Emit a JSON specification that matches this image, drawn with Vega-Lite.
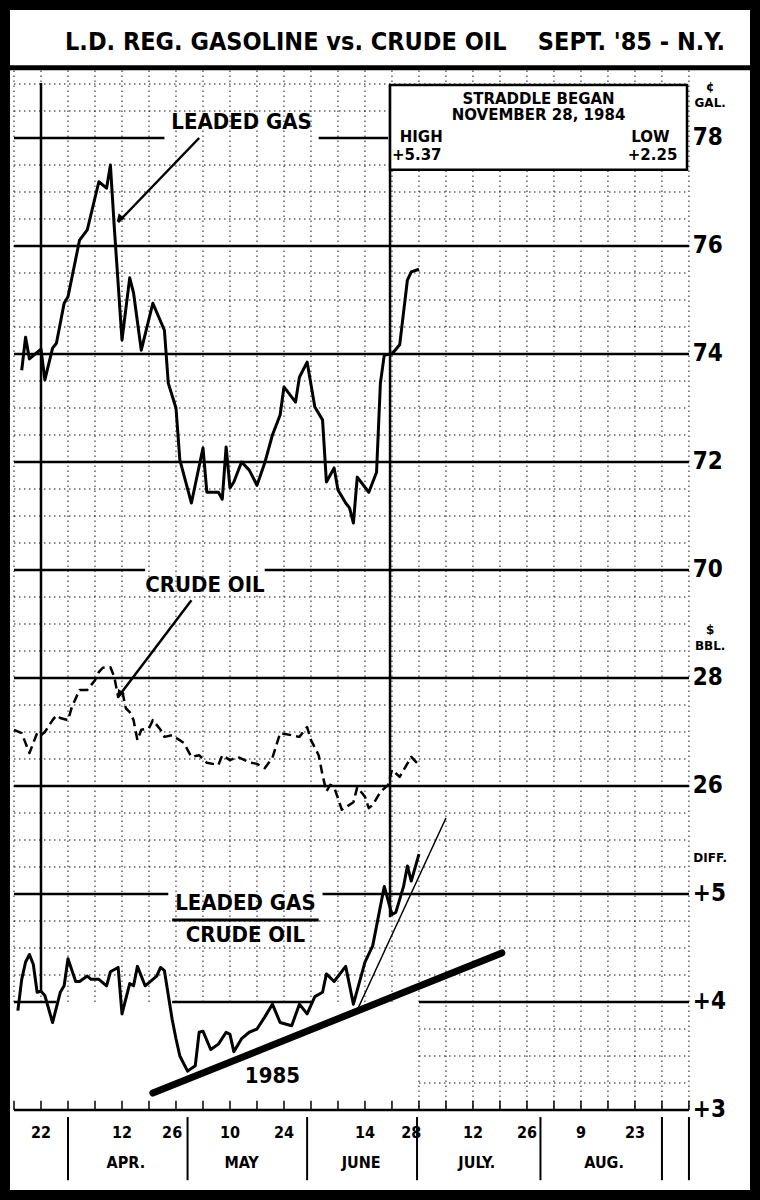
{
  "$schema": "https://vega.github.io/schema/vega-lite/v6.json",
  "width": 750,
  "height": 1190,
  "autosize": {"type": "none"},
  "padding": {"left": 5, "top": 5, "right": 5, "bottom": 5},
  "background": "white",
  "config": {"view": {"stroke": "#000", "strokeWidth": 10}},
  "title": {
    "text": "L.D. REG. GASOLINE vs. CRUDE OIL\u00a0\u00a0\u00a0\u00a0SEPT. '85 - N.Y.",
    "orient": "top", "anchor": "middle", "frame": "group", "offset": -70, "baseline": "alphabetic", "dx": 15,
    "font": "DejaVu Sans Condensed", "fontWeight": "bold", "fontSize": 25, "color": "#000"
  },
  "datasets": {
    "weeks": [
      {"d": "1985-03-15"}, {"d": "1985-03-22"}, {"d": "1985-03-29"}, {"d": "1985-04-05"}, {"d": "1985-04-12"},
      {"d": "1985-04-19"}, {"d": "1985-04-26"}, {"d": "1985-05-03"}, {"d": "1985-05-10"}, {"d": "1985-05-17"},
      {"d": "1985-05-24"}, {"d": "1985-05-31"}, {"d": "1985-06-07"}, {"d": "1985-06-14"}, {"d": "1985-06-21"},
      {"d": "1985-06-28"}, {"d": "1985-07-05"}, {"d": "1985-07-12"}, {"d": "1985-07-19"}, {"d": "1985-07-26"},
      {"d": "1985-08-02"}, {"d": "1985-08-09"}, {"d": "1985-08-16"}, {"d": "1985-08-23"}, {"d": "1985-08-30"},
      {"d": "1985-09-06"}
    ],
    "gas": [
      {"d": "1985-03-17", "v": 73.70}, {"d": "1985-03-18", "v": 74.31}, {"d": "1985-03-19", "v": 73.91},
      {"d": "1985-03-22", "v": 74.09}, {"d": "1985-03-23", "v": 73.52}, {"d": "1985-03-25", "v": 74.11},
      {"d": "1985-03-26", "v": 74.20}, {"d": "1985-03-28", "v": 74.94}, {"d": "1985-03-29", "v": 75.06},
      {"d": "1985-04-01", "v": 76.11}, {"d": "1985-04-03", "v": 76.30}, {"d": "1985-04-06", "v": 77.19},
      {"d": "1985-04-08", "v": 77.07}, {"d": "1985-04-09", "v": 77.50}, {"d": "1985-04-10", "v": 76.35},
      {"d": "1985-04-12", "v": 74.26}, {"d": "1985-04-14", "v": 75.41}, {"d": "1985-04-15", "v": 75.13},
      {"d": "1985-04-17", "v": 74.07}, {"d": "1985-04-20", "v": 74.94}, {"d": "1985-04-23", "v": 74.44},
      {"d": "1985-04-24", "v": 73.46}, {"d": "1985-04-26", "v": 73.00}, {"d": "1985-04-27", "v": 72.04},
      {"d": "1985-04-30", "v": 71.24}, {"d": "1985-05-03", "v": 72.26}, {"d": "1985-05-04", "v": 71.44},
      {"d": "1985-05-07", "v": 71.44}, {"d": "1985-05-08", "v": 71.31}, {"d": "1985-05-09", "v": 72.28},
      {"d": "1985-05-10", "v": 71.52}, {"d": "1985-05-11", "v": 71.63}, {"d": "1985-05-13", "v": 72.00},
      {"d": "1985-05-15", "v": 71.85}, {"d": "1985-05-17", "v": 71.57}, {"d": "1985-05-19", "v": 71.98},
      {"d": "1985-05-21", "v": 72.50}, {"d": "1985-05-23", "v": 72.87}, {"d": "1985-05-24", "v": 73.39},
      {"d": "1985-05-27", "v": 73.11}, {"d": "1985-05-28", "v": 73.57}, {"d": "1985-05-30", "v": 73.85},
      {"d": "1985-06-01", "v": 73.02}, {"d": "1985-06-03", "v": 72.78}, {"d": "1985-06-04", "v": 71.63},
      {"d": "1985-06-06", "v": 71.89}, {"d": "1985-06-07", "v": 71.48}, {"d": "1985-06-09", "v": 71.24},
      {"d": "1985-06-10", "v": 71.15}, {"d": "1985-06-11", "v": 70.87}, {"d": "1985-06-12", "v": 71.72},
      {"d": "1985-06-15", "v": 71.44}, {"d": "1985-06-17", "v": 71.81}, {"d": "1985-06-18", "v": 73.46},
      {"d": "1985-06-19", "v": 73.98}, {"d": "1985-06-21", "v": 74.00}, {"d": "1985-06-23", "v": 74.17},
      {"d": "1985-06-25", "v": 75.37}, {"d": "1985-06-26", "v": 75.52}, {"d": "1985-06-28", "v": 75.57}
    ],
    "crude": [
      {"d": "1985-03-15", "v": 27.04}, {"d": "1985-03-17", "v": 26.98}, {"d": "1985-03-19", "v": 26.61},
      {"d": "1985-03-21", "v": 26.98}, {"d": "1985-03-22", "v": 26.94}, {"d": "1985-03-23", "v": 27.00},
      {"d": "1985-03-25", "v": 27.22}, {"d": "1985-03-26", "v": 27.31}, {"d": "1985-03-27", "v": 27.26},
      {"d": "1985-03-29", "v": 27.22}, {"d": "1985-03-30", "v": 27.46}, {"d": "1985-04-01", "v": 27.78},
      {"d": "1985-04-03", "v": 27.78}, {"d": "1985-04-05", "v": 27.96}, {"d": "1985-04-06", "v": 28.11},
      {"d": "1985-04-07", "v": 28.19}, {"d": "1985-04-09", "v": 28.20}, {"d": "1985-04-10", "v": 28.02},
      {"d": "1985-04-11", "v": 27.65}, {"d": "1985-04-12", "v": 27.78}, {"d": "1985-04-13", "v": 27.44},
      {"d": "1985-04-14", "v": 27.37}, {"d": "1985-04-15", "v": 27.22}, {"d": "1985-04-16", "v": 26.85},
      {"d": "1985-04-17", "v": 27.04}, {"d": "1985-04-19", "v": 27.07}, {"d": "1985-04-20", "v": 27.22},
      {"d": "1985-04-22", "v": 27.04}, {"d": "1985-04-23", "v": 26.91}, {"d": "1985-04-25", "v": 26.94},
      {"d": "1985-04-28", "v": 26.80}, {"d": "1985-04-30", "v": 26.54}, {"d": "1985-05-02", "v": 26.57},
      {"d": "1985-05-04", "v": 26.43}, {"d": "1985-05-07", "v": 26.39}, {"d": "1985-05-08", "v": 26.57},
      {"d": "1985-05-10", "v": 26.48}, {"d": "1985-05-12", "v": 26.54}, {"d": "1985-05-15", "v": 26.44},
      {"d": "1985-05-17", "v": 26.41}, {"d": "1985-05-19", "v": 26.33}, {"d": "1985-05-21", "v": 26.52},
      {"d": "1985-05-23", "v": 26.98}, {"d": "1985-05-26", "v": 26.94}, {"d": "1985-05-28", "v": 26.91},
      {"d": "1985-05-30", "v": 27.09}, {"d": "1985-05-31", "v": 26.85}, {"d": "1985-06-02", "v": 26.57},
      {"d": "1985-06-03", "v": 26.20}, {"d": "1985-06-04", "v": 25.90}, {"d": "1985-06-05", "v": 26.02},
      {"d": "1985-06-06", "v": 25.98}, {"d": "1985-06-08", "v": 25.56}, {"d": "1985-06-11", "v": 25.70},
      {"d": "1985-06-12", "v": 25.98}, {"d": "1985-06-14", "v": 25.80}, {"d": "1985-06-15", "v": 25.59},
      {"d": "1985-06-16", "v": 25.65}, {"d": "1985-06-18", "v": 25.89}, {"d": "1985-06-20", "v": 26.02},
      {"d": "1985-06-21", "v": 26.30}, {"d": "1985-06-23", "v": 26.17}, {"d": "1985-06-26", "v": 26.54},
      {"d": "1985-06-28", "v": 26.39}
    ],
    "diff": [
      {"d": "1985-03-16", "v": 3.92}, {"d": "1985-03-17", "v": 4.21}, {"d": "1985-03-18", "v": 4.37},
      {"d": "1985-03-19", "v": 4.44}, {"d": "1985-03-20", "v": 4.35}, {"d": "1985-03-21", "v": 4.09},
      {"d": "1985-03-22", "v": 4.10}, {"d": "1985-03-23", "v": 4.06}, {"d": "1985-03-25", "v": 3.81},
      {"d": "1985-03-27", "v": 4.09}, {"d": "1985-03-28", "v": 4.15}, {"d": "1985-03-29", "v": 4.40},
      {"d": "1985-03-31", "v": 4.19}, {"d": "1985-04-01", "v": 4.19}, {"d": "1985-04-03", "v": 4.24},
      {"d": "1985-04-04", "v": 4.21}, {"d": "1985-04-06", "v": 4.21}, {"d": "1985-04-08", "v": 4.15},
      {"d": "1985-04-09", "v": 4.28}, {"d": "1985-04-11", "v": 4.32}, {"d": "1985-04-12", "v": 3.89},
      {"d": "1985-04-14", "v": 4.17}, {"d": "1985-04-15", "v": 4.15}, {"d": "1985-04-16", "v": 4.33},
      {"d": "1985-04-18", "v": 4.15}, {"d": "1985-04-20", "v": 4.21}, {"d": "1985-04-21", "v": 4.24},
      {"d": "1985-04-22", "v": 4.32}, {"d": "1985-04-23", "v": 4.29}, {"d": "1985-04-25", "v": 3.84},
      {"d": "1985-04-26", "v": 3.66}, {"d": "1985-04-27", "v": 3.50}, {"d": "1985-04-29", "v": 3.36},
      {"d": "1985-05-01", "v": 3.41}, {"d": "1985-05-02", "v": 3.72}, {"d": "1985-05-03", "v": 3.73},
      {"d": "1985-05-05", "v": 3.56}, {"d": "1985-05-07", "v": 3.61}, {"d": "1985-05-09", "v": 3.72},
      {"d": "1985-05-10", "v": 3.70}, {"d": "1985-05-11", "v": 3.54}, {"d": "1985-05-13", "v": 3.66},
      {"d": "1985-05-15", "v": 3.72}, {"d": "1985-05-17", "v": 3.75}, {"d": "1985-05-19", "v": 3.86},
      {"d": "1985-05-21", "v": 3.98}, {"d": "1985-05-23", "v": 3.81}, {"d": "1985-05-26", "v": 3.78},
      {"d": "1985-05-28", "v": 3.98}, {"d": "1985-05-30", "v": 3.89}, {"d": "1985-06-01", "v": 4.05},
      {"d": "1985-06-03", "v": 4.09}, {"d": "1985-06-04", "v": 4.26}, {"d": "1985-06-06", "v": 4.19},
      {"d": "1985-06-09", "v": 4.33}, {"d": "1985-06-11", "v": 3.98}, {"d": "1985-06-14", "v": 4.37},
      {"d": "1985-06-16", "v": 4.52}, {"d": "1985-06-19", "v": 5.07}, {"d": "1985-06-21", "v": 4.81},
      {"d": "1985-06-22", "v": 4.83}, {"d": "1985-06-24", "v": 5.07}, {"d": "1985-06-25", "v": 5.26},
      {"d": "1985-06-26", "v": 5.12}, {"d": "1985-06-28", "v": 5.37}
    ]
  },
  "layer": [
    {
      "layer": [
        {
          "data": {"name": "weeks"},
          "mark": {"type": "rule", "stroke": "#111", "strokeWidth": 1, "strokeDash": [1.5, 3.5]},
          "encoding": {
            "x": {"field": "d", "type": "temporal", "axis": null, "scale": {"type": "utc", "domain": [{"year": 1985, "month": 3, "date": 12, "hours": 16, "utc": true}, {"year": 1985, "month": 9, "date": 23, "hours": 3, "utc": true}]}},
            "y": {"datum": 79.25, "type": "quantitative", "axis": null, "scale": {"domain": [58.426, 80.463], "zero": false, "nice": false}},
            "y2": {"datum": 60}
          }
        },
        {
          "data": {"values": [
            {"u": 79.0}, {"u": 78.5}, {"u": 77.5}, {"u": 77.0}, {"u": 76.5}, {"u": 75.5}, {"u": 75.0}, {"u": 74.5},
            {"u": 73.5}, {"u": 73.0}, {"u": 72.5}, {"u": 71.5}, {"u": 71.0}, {"u": 70.5}, {"u": 69.5}, {"u": 69.0},
            {"u": 68.5}, {"u": 67.5}, {"u": 67.0}, {"u": 66.5}, {"u": 65.5}, {"u": 65.0}, {"u": 64.5}, {"u": 63.5},
            {"u": 63.0}, {"u": 62.5}, {"u": 61.5}, {"u": 61.0}, {"u": 60.5}
          ]},
          "mark": {"type": "rule", "stroke": "#111", "strokeWidth": 1, "strokeDash": [1.5, 3.5]},
          "encoding": {
            "x": {"datum": {"year": 1985, "month": 3, "date": 15, "utc": true}, "type": "temporal", "axis": null, "scale": {"type": "utc", "domain": [{"year": 1985, "month": 3, "date": 12, "hours": 16, "utc": true}, {"year": 1985, "month": 9, "date": 23, "hours": 3, "utc": true}]}},
            "x2": {"datum": {"year": 1985, "month": 9, "date": 6, "utc": true}},
            "y": {"field": "u", "type": "quantitative", "axis": null, "scale": {"domain": [58.426, 80.463], "zero": false, "nice": false}}
          }
        },
        {
          "data": {"values": [{}]},
          "mark": {"type": "rect", "fill": "white", "strokeWidth": 0},
          "encoding": {
            "x": {"datum": {"year": 1985, "month": 3, "date": 14, "hours": 12, "utc": true}, "type": "temporal", "axis": null, "scale": {"type": "utc", "domain": [{"year": 1985, "month": 3, "date": 12, "hours": 16, "utc": true}, {"year": 1985, "month": 9, "date": 23, "hours": 3, "utc": true}]}},
            "x2": {"datum": {"year": 1985, "month": 6, "date": 27, "hours": 18, "utc": true}},
            "y": {"datum": 60.03, "type": "quantitative", "axis": null, "scale": {"domain": [58.426, 80.463], "zero": false, "nice": false}},
            "y2": {"datum": 61.97}
          }
        },
        {
          "data": {"values": [
            {"u": 78, "a": "1985-03-15", "b": "1985-04-23"}, {"u": 78, "a": "1985-06-02", "b": "1985-06-20"},
            {"u": 76, "a": "1985-03-15", "b": "1985-09-06"}, {"u": 74, "a": "1985-03-15", "b": "1985-09-06"},
            {"u": 72, "a": "1985-03-15", "b": "1985-09-06"}, {"u": 70, "a": "1985-03-15", "b": "1985-04-18"},
            {"u": 70, "a": "1985-05-19", "b": "1985-09-06"}, {"u": 68, "a": "1985-03-15", "b": "1985-09-06"},
            {"u": 66, "a": "1985-03-15", "b": "1985-09-06"}, {"u": 64, "a": "1985-03-15", "b": "1985-04-24"},
            {"u": 64, "a": "1985-06-03", "b": "1985-09-06"}, {"u": 62, "a": "1985-03-15", "b": "1985-03-26"},
            {"u": 62, "a": "1985-04-25", "b": "1985-05-31"}, {"u": 62, "a": "1985-06-28", "b": "1985-09-06"},
            {"u": 60, "a": "1985-03-15", "b": "1985-09-06"}
          ], "format": {"parse": {"a": "date", "b": "date"}}},
          "mark": {"type": "rule", "stroke": "#000", "strokeWidth": 2.5},
          "encoding": {
            "x": {"field": "a", "type": "temporal", "axis": null, "scale": {"type": "utc", "domain": [{"year": 1985, "month": 3, "date": 12, "hours": 16, "utc": true}, {"year": 1985, "month": 9, "date": 23, "hours": 3, "utc": true}]}},
            "x2": {"field": "b"},
            "y": {"field": "u", "type": "quantitative", "axis": null, "scale": {"domain": [58.426, 80.463], "zero": false, "nice": false}}
          }
        },
        {
          "data": {"name": "weeks"},
          "mark": {"type": "rule", "stroke": "#000", "strokeWidth": 1.5},
          "encoding": {
            "x": {"field": "d", "type": "temporal", "axis": null, "scale": {"type": "utc", "domain": [{"year": 1985, "month": 3, "date": 12, "hours": 16, "utc": true}, {"year": 1985, "month": 9, "date": 23, "hours": 3, "utc": true}]}},
            "y": {"datum": 60, "type": "quantitative", "axis": null, "scale": {"domain": [58.426, 80.463], "zero": false, "nice": false}},
            "y2": {"datum": 60.17}
          }
        },
        {
          "data": {"values": [{}]},
          "mark": {"type": "rule", "stroke": "#000", "strokeWidth": 2.5},
          "encoding": {
            "x": {"datum": {"year": 1985, "month": 3, "date": 22, "utc": true}, "type": "temporal", "axis": null, "scale": {"type": "utc", "domain": [{"year": 1985, "month": 3, "date": 12, "hours": 16, "utc": true}, {"year": 1985, "month": 9, "date": 23, "hours": 3, "utc": true}]}},
            "y": {"datum": 79.02, "type": "quantitative", "axis": null, "scale": {"domain": [58.426, 80.463], "zero": false, "nice": false}},
            "y2": {"datum": 62.18}
          }
        },
        {
          "data": {"values": [{}]},
          "mark": {"type": "rule", "stroke": "#000", "strokeWidth": 2.5},
          "encoding": {
            "x": {"datum": {"year": 1985, "month": 6, "date": 20, "hours": 12, "utc": true}, "type": "temporal", "axis": null, "scale": {"type": "utc", "domain": [{"year": 1985, "month": 3, "date": 12, "hours": 16, "utc": true}, {"year": 1985, "month": 9, "date": 23, "hours": 3, "utc": true}]}},
            "y": {"datum": 78.98, "type": "quantitative", "axis": null, "scale": {"domain": [58.426, 80.463], "zero": false, "nice": false}},
            "y2": {"datum": 63.57}
          }
        },
        {
          "data": {"values": [
            {"d": "1985-03-29T00:00:00Z"}, {"d": "1985-04-29T00:00:00Z"}, {"d": "1985-05-30T00:00:00Z"},
            {"d": "1985-06-27T12:00:00Z"}, {"d": "1985-07-29T12:00:00Z"}, {"d": "1985-08-30T00:00:00Z"},
            {"d": "1985-09-06T00:00:00Z"}
          ]},
          "mark": {"type": "rule", "stroke": "#000", "strokeWidth": 2},
          "encoding": {
            "x": {"field": "d", "type": "temporal", "axis": null, "scale": {"type": "utc", "domain": [{"year": 1985, "month": 3, "date": 12, "hours": 16, "utc": true}, {"year": 1985, "month": 9, "date": 23, "hours": 3, "utc": true}]}},
            "y": {"datum": 59.87, "type": "quantitative", "axis": null, "scale": {"domain": [58.426, 80.463], "zero": false, "nice": false}},
            "y2": {"datum": 58.70}
          }
        },
        {
          "data": {"values": [{}]},
          "mark": {"type": "rule", "stroke": "#000", "strokeWidth": 5},
          "encoding": {
            "x": {"datum": {"year": 1985, "month": 3, "date": 12, "hours": 16, "utc": true}, "type": "temporal", "axis": null, "scale": {"type": "utc", "domain": [{"year": 1985, "month": 3, "date": 12, "hours": 16, "utc": true}, {"year": 1985, "month": 9, "date": 23, "hours": 3, "utc": true}]}},
            "x2": {"datum": {"year": 1985, "month": 9, "date": 23, "hours": 3, "utc": true}},
            "y": {"datum": 79.30, "type": "quantitative", "axis": null, "scale": {"domain": [58.426, 80.463], "zero": false, "nice": false}}
          }
        },
        {
          "data": {"values": [{}]},
          "mark": {"type": "rect", "fill": "white", "stroke": "#000", "strokeWidth": 2.5},
          "encoding": {
            "x": {"datum": {"year": 1985, "month": 6, "date": 20, "hours": 12, "utc": true}, "type": "temporal", "axis": null, "scale": {"type": "utc", "domain": [{"year": 1985, "month": 3, "date": 12, "hours": 16, "utc": true}, {"year": 1985, "month": 9, "date": 23, "hours": 3, "utc": true}]}},
            "x2": {"datum": {"year": 1985, "month": 9, "date": 5, "hours": 12, "utc": true}},
            "y": {"datum": 78.98, "type": "quantitative", "axis": null, "scale": {"domain": [58.426, 80.463], "zero": false, "nice": false}},
            "y2": {"datum": 77.41}
          }
        },
        {
          "data": {"values": [
            {"t": "STRADDLE BEGAN", "d": "1985-07-29", "u": 78.72},
            {"t": "NOVEMBER 28, 1984", "d": "1985-07-29", "u": 78.43}
          ]},
          "mark": {"type": "text", "font": "DejaVu Sans", "fontWeight": "bold", "fontSize": 15, "align": "center", "baseline": "middle", "color": "#000"},
          "encoding": {
            "x": {"field": "d", "type": "temporal", "axis": null, "scale": {"type": "utc", "domain": [{"year": 1985, "month": 3, "date": 12, "hours": 16, "utc": true}, {"year": 1985, "month": 9, "date": 23, "hours": 3, "utc": true}]}},
            "y": {"field": "u", "type": "quantitative", "axis": null, "scale": {"domain": [58.426, 80.463], "zero": false, "nice": false}},
            "text": {"field": "t"}
          }
        },
        {
          "data": {"values": [
            {"t": "HIGH", "d": "1985-06-23", "u": 78.02},
            {"t": "+5.37", "d": "1985-06-21", "u": 77.69}
          ]},
          "mark": {"type": "text", "font": "DejaVu Sans", "fontWeight": "bold", "fontSize": 15, "align": "left", "baseline": "middle", "color": "#000"},
          "encoding": {
            "x": {"field": "d", "type": "temporal", "axis": null, "scale": {"type": "utc", "domain": [{"year": 1985, "month": 3, "date": 12, "hours": 16, "utc": true}, {"year": 1985, "month": 9, "date": 23, "hours": 3, "utc": true}]}},
            "y": {"field": "u", "type": "quantitative", "axis": null, "scale": {"domain": [58.426, 80.463], "zero": false, "nice": false}},
            "text": {"field": "t"}
          }
        },
        {
          "data": {"values": [
            {"t": "LOW", "d": "1985-09-01", "u": 78.02},
            {"t": "+2.25", "d": "1985-09-03", "u": 77.69}
          ]},
          "mark": {"type": "text", "font": "DejaVu Sans", "fontWeight": "bold", "fontSize": 15, "align": "right", "baseline": "middle", "color": "#000"},
          "encoding": {
            "x": {"field": "d", "type": "temporal", "axis": null, "scale": {"type": "utc", "domain": [{"year": 1985, "month": 3, "date": 12, "hours": 16, "utc": true}, {"year": 1985, "month": 9, "date": 23, "hours": 3, "utc": true}]}},
            "y": {"field": "u", "type": "quantitative", "axis": null, "scale": {"domain": [58.426, 80.463], "zero": false, "nice": false}},
            "text": {"field": "t"}
          }
        },
        {
          "data": {"values": [
            {"t": "LEADED GAS", "d": "1985-05-13", "u": 78.30},
            {"t": "CRUDE OIL", "d": "1985-05-03T12:00:00Z", "u": 69.72},
            {"t": "LEADED GAS", "d": "1985-05-14", "u": 63.83},
            {"t": "CRUDE OIL", "d": "1985-05-14", "u": 63.24},
            {"t": "1985", "d": "1985-05-21", "u": 60.63}
          ]},
          "mark": {"type": "text", "font": "DejaVu Sans Condensed", "fontWeight": "bold", "fontSize": 22, "align": "center", "baseline": "middle", "color": "#000"},
          "encoding": {
            "x": {"field": "d", "type": "temporal", "axis": null, "scale": {"type": "utc", "domain": [{"year": 1985, "month": 3, "date": 12, "hours": 16, "utc": true}, {"year": 1985, "month": 9, "date": 23, "hours": 3, "utc": true}]}},
            "y": {"field": "u", "type": "quantitative", "axis": null, "scale": {"domain": [58.426, 80.463], "zero": false, "nice": false}},
            "text": {"field": "t"}
          }
        },
        {
          "data": {"values": [{}]},
          "mark": {"type": "rule", "stroke": "#000", "strokeWidth": 3},
          "encoding": {
            "x": {"datum": {"year": 1985, "month": 4, "date": 25, "utc": true}, "type": "temporal", "axis": null, "scale": {"type": "utc", "domain": [{"year": 1985, "month": 3, "date": 12, "hours": 16, "utc": true}, {"year": 1985, "month": 9, "date": 23, "hours": 3, "utc": true}]}},
            "x2": {"datum": {"year": 1985, "month": 6, "date": 2, "utc": true}},
            "y": {"datum": 63.52, "type": "quantitative", "axis": null, "scale": {"domain": [58.426, 80.463], "zero": false, "nice": false}}
          }
        },
        {
          "data": {"values": [
            {"m": "APR.", "d": "1985-04-13"}, {"m": "MAY", "d": "1985-05-13"}, {"m": "JUNE", "d": "1985-06-13"},
            {"m": "JULY.", "d": "1985-07-13"}, {"m": "AUG.", "d": "1985-08-15"}
          ]},
          "mark": {"type": "text", "font": "DejaVu Sans Condensed", "fontWeight": "bold", "fontSize": 16, "align": "center", "baseline": "middle", "color": "#000"},
          "encoding": {
            "x": {"field": "d", "type": "temporal", "axis": null, "scale": {"type": "utc", "domain": [{"year": 1985, "month": 3, "date": 12, "hours": 16, "utc": true}, {"year": 1985, "month": 9, "date": 23, "hours": 3, "utc": true}]}},
            "y": {"datum": 59.02, "type": "quantitative", "axis": null, "scale": {"domain": [58.426, 80.463], "zero": false, "nice": false}},
            "text": {"field": "m"}
          }
        },
        {
          "data": {"values": [
            {"t": "22", "d": "1985-03-22"}, {"t": "12", "d": "1985-04-12"}, {"t": "26", "d": "1985-04-25"},
            {"t": "10", "d": "1985-05-10"}, {"t": "24", "d": "1985-05-24"}, {"t": "14", "d": "1985-06-14"},
            {"t": "28", "d": "1985-06-26"}, {"t": "12", "d": "1985-07-12"}, {"t": "26", "d": "1985-07-26"},
            {"t": "9", "d": "1985-08-09"}, {"t": "23", "d": "1985-08-23"}
          ]},
          "mark": {"type": "text", "font": "DejaVu Sans Condensed", "fontWeight": "bold", "fontSize": 16, "align": "center", "baseline": "middle", "color": "#000"},
          "encoding": {
            "x": {"field": "d", "type": "temporal", "axis": null, "scale": {"type": "utc", "domain": [{"year": 1985, "month": 3, "date": 12, "hours": 16, "utc": true}, {"year": 1985, "month": 9, "date": 23, "hours": 3, "utc": true}]}},
            "y": {"datum": 59.57, "type": "quantitative", "axis": null, "scale": {"domain": [58.426, 80.463], "zero": false, "nice": false}},
            "text": {"field": "t"}
          }
        },
        {
          "data": {"values": [
            {"t": "¢", "u": 78.94}, {"t": "GAL.", "u": 78.65},
            {"t": "$", "u": 68.89}, {"t": "BBL.", "u": 68.59},
            {"t": "DIFF.", "u": 64.67}
          ]},
          "mark": {"type": "text", "font": "DejaVu Sans", "fontWeight": "bold", "fontSize": 12, "align": "center", "baseline": "middle", "color": "#000"},
          "encoding": {
            "x": {"datum": {"year": 1985, "month": 9, "date": 11, "hours": 12, "utc": true}, "type": "temporal", "axis": null, "scale": {"type": "utc", "domain": [{"year": 1985, "month": 3, "date": 12, "hours": 16, "utc": true}, {"year": 1985, "month": 9, "date": 23, "hours": 3, "utc": true}]}},
            "y": {"field": "u", "type": "quantitative", "axis": null, "scale": {"domain": [58.426, 80.463], "zero": false, "nice": false}},
            "text": {"field": "t"}
          }
        },
        {
          "data": {"values": [{"v": 78}, {"v": 76}, {"v": 74}, {"v": 72}, {"v": 70}]},
          "mark": {"type": "text", "font": "DejaVu Sans Condensed", "fontWeight": "bold", "fontSize": 24, "align": "left", "baseline": "middle", "color": "#000"},
          "encoding": {
            "x": {"datum": {"year": 1985, "month": 9, "date": 7, "utc": true}, "type": "temporal", "axis": null, "scale": {"type": "utc", "domain": [{"year": 1985, "month": 3, "date": 12, "hours": 16, "utc": true}, {"year": 1985, "month": 9, "date": 23, "hours": 3, "utc": true}]}},
            "y": {"field": "v", "type": "quantitative", "axis": null, "scale": {"domain": [58.426, 80.463], "zero": false, "nice": false}},
            "text": {"field": "v", "type": "quantitative", "format": "d"}
          }
        },
        {
          "data": {"name": "gas"},
          "mark": {"type": "line", "stroke": "#000", "strokeWidth": 3, "strokeJoin": "round"},
          "encoding": {
            "x": {"field": "d", "type": "temporal", "axis": null, "scale": {"type": "utc", "domain": [{"year": 1985, "month": 3, "date": 12, "hours": 16, "utc": true}, {"year": 1985, "month": 9, "date": 23, "hours": 3, "utc": true}]}},
            "y": {"field": "v", "type": "quantitative", "axis": null, "scale": {"domain": [58.426, 80.463], "zero": false, "nice": false}}
          }
        },
        {
          "data": {"values": [{}]},
          "mark": {"type": "rule", "stroke": "#000", "strokeWidth": 2.5},
          "encoding": {
            "x": {"datum": {"year": 1985, "month": 5, "date": 2, "utc": true}, "type": "temporal", "axis": null, "scale": {"type": "utc", "domain": [{"year": 1985, "month": 3, "date": 12, "hours": 16, "utc": true}, {"year": 1985, "month": 9, "date": 23, "hours": 3, "utc": true}]}},
            "x2": {"datum": {"year": 1985, "month": 4, "date": 11, "utc": true}},
            "y": {"datum": 78.0, "type": "quantitative", "axis": null, "scale": {"domain": [58.426, 80.463], "zero": false, "nice": false}},
            "y2": {"datum": 76.44}
          }
        },
        {
          "data": {"values": [{}]},
          "mark": {"type": "point", "shape": "triangle", "filled": true, "color": "#000", "size": 70, "angle": 224, "opacity": 1},
          "encoding": {
            "x": {"datum": {"year": 1985, "month": 4, "date": 11, "hours": 12, "utc": true}, "type": "temporal", "axis": null, "scale": {"type": "utc", "domain": [{"year": 1985, "month": 3, "date": 12, "hours": 16, "utc": true}, {"year": 1985, "month": 9, "date": 23, "hours": 3, "utc": true}]}},
            "y": {"datum": 76.52, "type": "quantitative", "axis": null, "scale": {"domain": [58.426, 80.463], "zero": false, "nice": false}}
          }
        },
        {
          "data": {"values": [{}]},
          "mark": {"type": "rule", "stroke": "#000", "strokeWidth": 2.5},
          "encoding": {
            "x": {"datum": {"year": 1985, "month": 4, "date": 30, "utc": true}, "type": "temporal", "axis": null, "scale": {"type": "utc", "domain": [{"year": 1985, "month": 3, "date": 12, "hours": 16, "utc": true}, {"year": 1985, "month": 9, "date": 23, "hours": 3, "utc": true}]}},
            "x2": {"datum": {"year": 1985, "month": 4, "date": 11, "utc": true}},
            "y": {"datum": 69.44, "type": "quantitative", "axis": null, "scale": {"domain": [58.426, 80.463], "zero": false, "nice": false}},
            "y2": {"datum": 67.65}
          }
        },
        {
          "data": {"values": [{}]},
          "mark": {"type": "point", "shape": "triangle", "filled": true, "color": "#000", "size": 70, "angle": 217, "opacity": 1},
          "encoding": {
            "x": {"datum": {"year": 1985, "month": 4, "date": 11, "hours": 12, "utc": true}, "type": "temporal", "axis": null, "scale": {"type": "utc", "domain": [{"year": 1985, "month": 3, "date": 12, "hours": 16, "utc": true}, {"year": 1985, "month": 9, "date": 23, "hours": 3, "utc": true}]}},
            "y": {"datum": 67.72, "type": "quantitative", "axis": null, "scale": {"domain": [58.426, 80.463], "zero": false, "nice": false}}
          }
        }
      ]
    },
    {
      "layer": [
        {
          "data": {"name": "crude"},
          "mark": {"type": "line", "stroke": "#000", "strokeWidth": 2.5, "strokeDash": [9, 5], "strokeJoin": "round"},
          "encoding": {
            "x": {"field": "d", "type": "temporal", "axis": null, "scale": {"type": "utc", "domain": [{"year": 1985, "month": 3, "date": 12, "hours": 16, "utc": true}, {"year": 1985, "month": 9, "date": 23, "hours": 3, "utc": true}]}},
            "y": {"field": "v", "type": "quantitative", "axis": null, "scale": {"domain": [18.426, 40.463], "zero": false, "nice": false}}
          }
        },
        {
          "data": {"values": [{"v": 28}, {"v": 26}]},
          "mark": {"type": "text", "font": "DejaVu Sans Condensed", "fontWeight": "bold", "fontSize": 24, "align": "left", "baseline": "middle", "color": "#000"},
          "encoding": {
            "x": {"datum": {"year": 1985, "month": 9, "date": 7, "utc": true}, "type": "temporal", "axis": null, "scale": {"type": "utc", "domain": [{"year": 1985, "month": 3, "date": 12, "hours": 16, "utc": true}, {"year": 1985, "month": 9, "date": 23, "hours": 3, "utc": true}]}},
            "y": {"field": "v", "type": "quantitative", "axis": null, "scale": {"domain": [18.426, 40.463], "zero": false, "nice": false}},
            "text": {"field": "v", "type": "quantitative", "format": "d"}
          }
        }
      ]
    },
    {
      "layer": [
        {
          "data": {"name": "diff"},
          "mark": {"type": "line", "stroke": "#000", "strokeWidth": 3, "strokeJoin": "round"},
          "encoding": {
            "x": {"field": "d", "type": "temporal", "axis": null, "scale": {"type": "utc", "domain": [{"year": 1985, "month": 3, "date": 12, "hours": 16, "utc": true}, {"year": 1985, "month": 9, "date": 23, "hours": 3, "utc": true}]}},
            "y": {"field": "v", "type": "quantitative", "axis": null, "scale": {"domain": [2.213, 13.2315], "zero": false, "nice": false}}
          }
        },
        {
          "data": {"values": [{"v": 5}, {"v": 4}, {"v": 3}]},
          "mark": {"type": "text", "font": "DejaVu Sans Condensed", "fontWeight": "bold", "fontSize": 24, "align": "left", "baseline": "middle", "color": "#000"},
          "encoding": {
            "x": {"datum": {"year": 1985, "month": 9, "date": 7, "utc": true}, "type": "temporal", "axis": null, "scale": {"type": "utc", "domain": [{"year": 1985, "month": 3, "date": 12, "hours": 16, "utc": true}, {"year": 1985, "month": 9, "date": 23, "hours": 3, "utc": true}]}},
            "y": {"field": "v", "type": "quantitative", "axis": null, "scale": {"domain": [2.213, 13.2315], "zero": false, "nice": false}},
            "text": {"field": "v", "type": "quantitative", "format": "+d"}
          }
        },
        {
          "data": {"values": [{}]},
          "mark": {"type": "rule", "stroke": "#000", "strokeWidth": 7, "strokeCap": "round"},
          "encoding": {
            "x": {"datum": {"year": 1985, "month": 4, "date": 20, "utc": true}, "type": "temporal", "axis": null, "scale": {"type": "utc", "domain": [{"year": 1985, "month": 3, "date": 12, "hours": 16, "utc": true}, {"year": 1985, "month": 9, "date": 23, "hours": 3, "utc": true}]}},
            "x2": {"datum": {"year": 1985, "month": 7, "date": 19, "hours": 12, "utc": true}},
            "y": {"datum": 3.157, "type": "quantitative", "axis": null, "scale": {"domain": [2.213, 13.2315], "zero": false, "nice": false}},
            "y2": {"datum": 4.454}
          }
        },
        {
          "data": {"values": [{}]},
          "mark": {"type": "rule", "stroke": "#000", "strokeWidth": 1.5},
          "encoding": {
            "x": {"datum": {"year": 1985, "month": 6, "date": 12, "utc": true}, "type": "temporal", "axis": null, "scale": {"type": "utc", "domain": [{"year": 1985, "month": 3, "date": 12, "hours": 16, "utc": true}, {"year": 1985, "month": 9, "date": 23, "hours": 3, "utc": true}]}},
            "x2": {"datum": {"year": 1985, "month": 7, "date": 5, "utc": true}},
            "y": {"datum": 3.926, "type": "quantitative", "axis": null, "scale": {"domain": [2.213, 13.2315], "zero": false, "nice": false}},
            "y2": {"datum": 5.704}
          }
        }
      ]
    }
  ],
  "resolve": {"scale": {"y": "independent"}}
}
